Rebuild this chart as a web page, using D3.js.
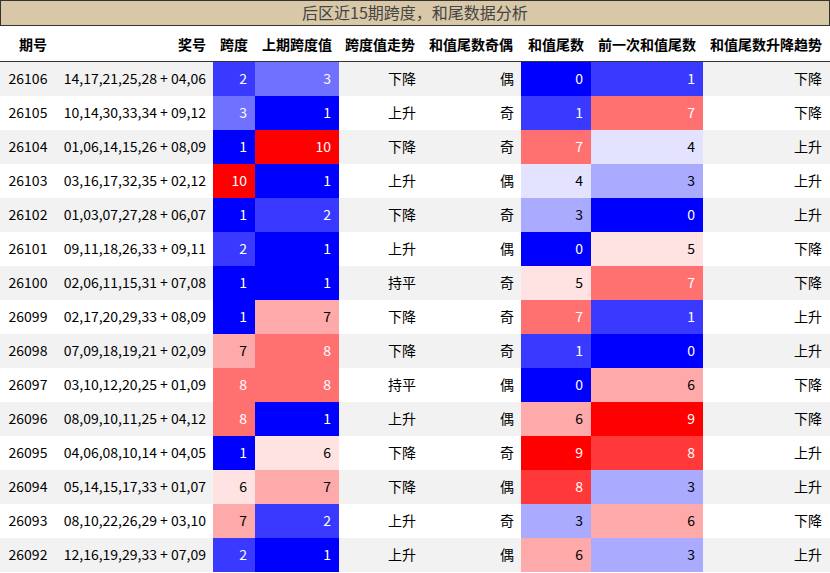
<!DOCTYPE html><html><head><meta charset="utf-8"><script src="https://cdn.jsdelivr.net/npm/d3@7"></script>
<style>body{margin:0;background:#fff}</style></head><body><svg id="c" width="830" height="573"></svg>
<script>
const periods=["26106","26105","26104","26103","26102","26101","26100","26099","26098","26097","26096","26095","26094","26093","26092"];
const numbers=["14,17,21,25,28 + 04,06","10,14,30,33,34 + 09,12","01,06,14,15,26 + 08,09","03,16,17,32,35 + 02,12","01,03,07,27,28 + 06,07","09,11,18,26,33 + 09,11","02,06,11,15,31 + 07,08","02,17,20,29,33 + 08,09","07,09,18,19,21 + 02,09","03,10,12,20,25 + 01,09","08,09,10,11,25 + 04,12","04,06,08,10,14 + 04,05","05,14,15,17,33 + 01,07","08,10,22,26,29 + 03,10","12,16,19,29,33 + 07,09"];
const span=[2,3,1,10,1,2,1,1,7,8,8,1,6,7,2];
const prevSpan=[3,1,10,1,2,1,1,7,8,8,1,6,7,2,1];
const spanTrend=["下降","上升","下降","上升","下降","上升","持平","下降","下降","持平","上升","下降","下降","上升","上升"];
const oddEven=["偶","奇","奇","偶","奇","偶","奇","奇","奇","偶","偶","奇","偶","奇","偶"];
const tail=[0,1,7,4,3,0,5,7,1,0,6,9,8,3,6];
const prevTail=[1,7,4,3,0,5,7,1,0,6,9,8,3,6,3];
const tailTrend=["下降","下降","上升","上升","上升","下降","下降","上升","上升","下降","下降","上升","上升","下降","上升"];
const headers=["期号","奖号","跨度","上期跨度值","跨度值走势","和值尾数奇偶","和值尾数","前一次和值尾数","和值尾数升降趋势"];
const title="后区近15期跨度，和尾数据分析";

const svg=d3.select("#c"),F="'Noto Sans CJK SC','Noto Sans',sans-serif";
const edges=[0,55,213,255,339,422,521,591,703,830];
const y=d3.scaleBand().domain(d3.range(15)).range([62,572]);
svg.append("rect").attr("x",0.5).attr("y",0.5).attr("width",829).attr("height",25).attr("fill","#d8c8a8").attr("stroke","#333");
svg.append("text").attr("x",415).attr("y",19).attr("text-anchor","middle").attr("font-family",F).attr("font-size",16).attr("fill","#444").text(title);
const hx=[33,206,234,297,380,471,556,647,766],ha=["middle","end","middle","middle","middle","middle","middle","middle","middle"];
headers.forEach((h,i)=>svg.append("text").attr("x",hx[i]).attr("y",50).attr("text-anchor",ha[i]).attr("font-family",F).attr("font-weight","bold").attr("font-size",14).attr("fill","#000").text(h));
svg.append("line").attr("x1",0).attr("x2",830).attr("y1",61.5).attr("y2",61.5).attr("stroke","#333");
const mk=arr=>{const e=d3.extent(arr);return {s:d3.scaleLinear().domain([e[0],(e[0]+e[1])/2,e[1]]).range(["#0000ff","#ffffff","#ff0000"]),t:d3.scaleLinear().domain(e).range([0,1])};};
const cs=[null,null,mk(span),mk(prevSpan),null,null,mk(tail),mk(prevTail),null];
const cols=[periods,numbers,span,prevSpan,spanTrend,oddEven,tail,prevTail,tailTrend];
const tx=[28,206,247,331,416,514,583,695,822],ta=["middle","end","end","end","end","end","end","end","end"];
d3.range(15).forEach(r=>{
  const g=svg.append("g");
  g.append("rect").attr("x",0).attr("y",y(r)).attr("width",830).attr("height",y.bandwidth()).attr("fill",r%2==0?"#f2f2f2":"#ffffff");
  cols.forEach((c,i)=>{
    let fill="#000";
    if(cs[i]){g.append("rect").attr("x",edges[i]).attr("y",y(r)).attr("width",edges[i+1]-edges[i]).attr("height",y.bandwidth()).attr("fill",cs[i].s(c[r]));
      const t=cs[i].t(c[r]);fill=(t<0.3||t>0.7)?"#fff":"#000";}
    g.append("text").attr("x",tx[i]).attr("y",y(r)+y.bandwidth()/2+5).attr("text-anchor",ta[i]).attr("font-family",F).attr("font-size",14).attr("fill",fill).text(c[r]);
  });
});
</script></body></html>
